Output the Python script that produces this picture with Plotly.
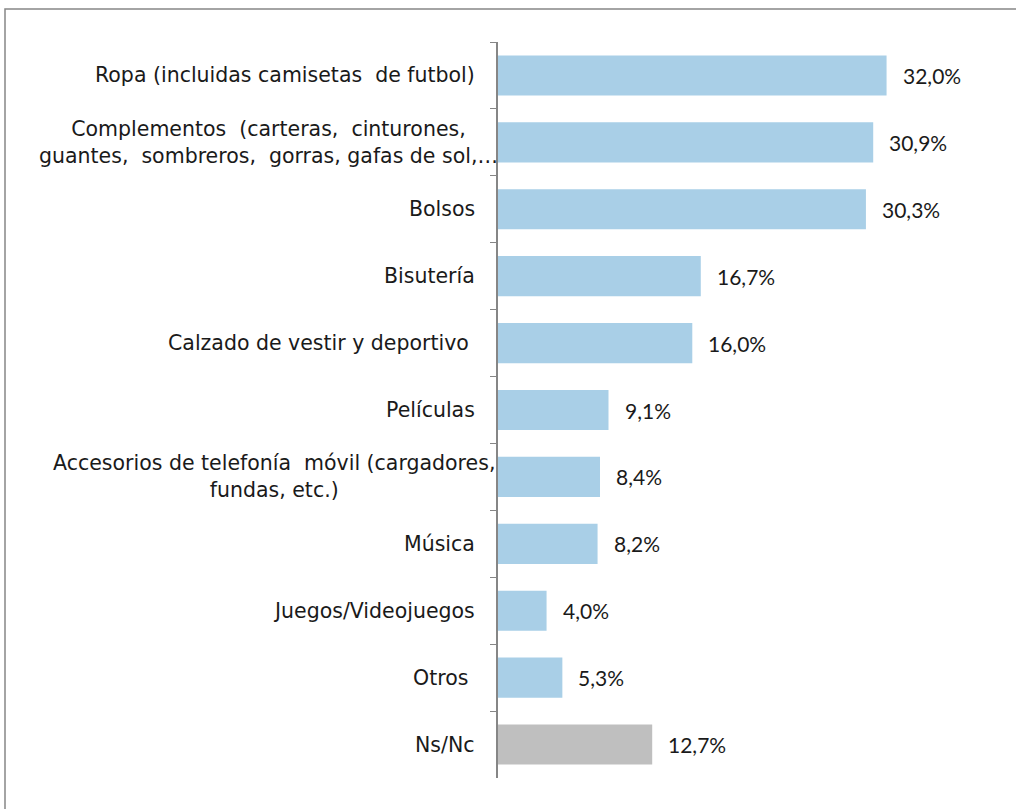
import plotly.graph_objects as go

categories = [
    "Ropa (incluidas camisetas  de futbol)",
    "Complementos  (carteras,  cinturones,<br>guantes,  sombreros,  gorras, gafas de sol,…",
    "Bolsos",
    "Bisutería",
    "Calzado de vestir y deportivo ",
    "Películas",
    "Accesorios de telefonía  móvil (cargadores,<br>fundas, etc.)",
    "Música",
    "Juegos/Videojuegos",
    "Otros ",
    "Ns/Nc",
]
values = [32.0, 30.9, 30.3, 16.7, 16.0, 9.1, 8.4, 8.2, 4.0, 5.3, 12.7]
value_labels = ["32,0%", "30,9%", "30,3%", "16,7%", "16,0%", "9,1%", "8,4%", "8,2%", "4,0%", "5,3%", "12,7%"]

BLUE = "#A9CFE7"
GREY = "#BFBFBF"
AXIS = "#868686"
LABEL_FONT = "DejaVu Sans"
VALUE_FONT = "Lato"
colors = [GREY if c == "Ns/Nc" else BLUE for c in categories]

# horizontal offset for wrapped (centred) labels
label_xshift = {categories[1]: 2, categories[6]: -1}

fig = go.Figure()
fig.add_trace(go.Bar(
    y=categories, x=values, orientation="h",
    marker=dict(color=colors, line=dict(width=0)),
    hoverinfo="skip",
))

ann = []
for c, v, t in zip(categories, values, value_labels):
    ann.append(dict(x=v, y=c, xref="x", yref="y", text=t, showarrow=False,
                    xanchor="left", xshift=14,
                    font=dict(family=VALUE_FONT, size=21, color="#1a1a1a")))
    wrapped = "<br>" in c
    ann.append(dict(x=0, y=c, xref="paper", yref="y", text=c, showarrow=False,
                    xanchor="right", align="center" if wrapped else "right",
                    xshift=label_xshift.get(c, -21),
                    font=dict(family=LABEL_FONT, size=20.5, color="#1a1a1a")))

fig.update_layout(
    width=1016, height=809,
    margin=dict(l=498, r=93, t=42, b=31),
    plot_bgcolor="white", paper_bgcolor="white",
    showlegend=False,
    bargap=0.4,
    annotations=ann,
    xaxis=dict(range=[0, 35], visible=False, showgrid=False, zeroline=False, fixedrange=True),
    yaxis=dict(
        categoryorder="array", categoryarray=categories, autorange="reversed",
        showticklabels=False, showgrid=False, zeroline=False, fixedrange=True,
        showline=True, linecolor=AXIS, linewidth=2,
        ticks="outside", tickson="boundaries", ticklen=6, tickwidth=1, tickcolor=AXIS,
    ),
    shapes=[dict(type="rect", xref="paper", yref="paper",
                 x0=-1.16, x1=1.4, y0=-0.2, y1=1.0448,
                 line=dict(color=AXIS, width=1.5), fillcolor="rgba(0,0,0,0)", layer="below")],
)

fig.write_html("out.html",
               config={"displayModeBar": False, "staticPlot": True},
               post_script="document.body.style.margin='0';document.body.style.overflow='hidden';")
